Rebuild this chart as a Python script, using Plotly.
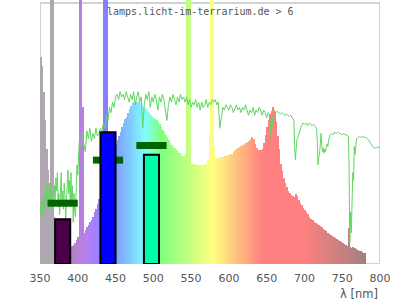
import plotly.graph_objects as go

# ---------------- data ----------------
# lamp spectrum: relative intensity (100 = top of frame), bars 2 nm wide centred on odd wavelengths
spec_wl = list(range(351, 782, 2))
spec_val = [
    79.4, 76, 66, 55, 44, 36, 31, 140, 140, 18,          # 351-369
    14, 12, 10, 9, 8, 7.5, 7, 6.8, 6.6, 6.6,              # 371-389
    6.6, 6.8, 7.3, 8, 9.2, 10.5, 140, 140, 60, 12,        # 391-409
    13, 14, 15, 16, 17, 18, 20, 21, 23, 25,               # 411-429
    27, 29, 140, 140, 140, 36, 38, 40, 43, 45,            # 431-449
    46, 47.5, 49, 50.5, 52.5, 54, 55.5, 56.5, 58, 59.5,   # 451-469
    60.5, 61.5, 62, 62.2, 62.2, 62.2, 61.5, 61, 60, 59.7, # 471-489
    59, 58.4, 57.8, 57, 56.5, 56, 55.5, 55, 54.5, 53.5,   # 491-509
    52.6, 51.5, 50.5, 49.4, 48.5, 47.5, 46.5, 45.7, 45, 44.3,  # 511-529
    43.5, 43, 42.5, 42, 41.3, 41.3, 42, 140, 140, 140,    # 531-549
    38.5, 38.3, 38.3, 38.2, 38, 38, 38, 38, 38, 38.2,     # 551-569
    38.5, 40, 50, 140, 140, 45, 40.5, 40.5, 40.8, 41,     # 571-589
    41, 41, 41.2, 41.4, 41.6, 41.8, 42, 42.3, 43, 43.5,   # 591-609
    44, 44.5, 45, 45.3, 45.7, 46, 46.2, 46.8, 47.3, 48,   # 611-629
    48.5, 48, 46, 44.3, 43.7, 43.7, 43.7, 43.9, 46.5, 49.4,  # 631-649
    52.5, 55, 57.3, 58.6, 60.3, 58.4, 54.5, 49, 44, 38.5,    # 651-669
    35.5, 33, 31, 29.5, 28, 27.3, 26.5, 26, 25.5, 27,     # 671-689
    26, 24.5, 23.5, 22.5, 21.5, 20.7, 19.8, 19, 18.2, 17.4,  # 691-709
    16.7, 16.2, 15.7, 15.2, 14.8, 14.4, 14, 13.5, 13, 12.5,  # 711-729
    12, 11.6, 11.2, 10.8, 10.4, 10, 9.6, 9.2, 8.8, 8.4,   # 731-749
    8, 7.5, 7.2, 6.9, 13.7, 6.5, 6.2, 6.6, 6.2, 5.8,      # 751-769
    5.4, 5, 4.8, 4.5, 4.3, 4.1,                           # 771-781
]

# reference (sunlight) spectrum, green line
sun_wl = (list(range(351, 401)) + list(range(402, 686, 2)) + [
    686, 687, 688, 689, 690, 692, 694, 696, 698, 700, 702, 704, 706, 708, 710, 712, 714, 716,
    717, 718, 719, 720, 721, 722, 723, 724, 725, 726, 727, 728, 729, 730, 731, 732,
    734, 736, 738, 740, 742, 744, 746, 748, 750, 752, 754, 756, 758,
    759, 760, 761, 762, 763, 764, 765, 766, 767, 768, 769,
    771, 773, 775, 777, 779, 781, 783, 785, 787, 789, 791, 793, 795, 797, 799, 800])
sun_val = [
    22, 17, 24, 19, 26, 21, 28, 24, 30, 26,
    22, 29, 25, 31, 23, 27, 20, 26, 30, 24,
    33, 28, 35, 22, 27, 19, 25, 35, 23, 28,
    21, 31, 26, 17, 24, 29, 36, 27, 32, 24,
    35, 22, 30, 16, 27, 20, 18, 30, 38, 34,
    47, 45, 50, 46, 43, 51, 48, 52, 47, 50, 48, 52, 49, 50, 52, 51, 54, 52, 57, 55, 60, 58, 62, 60, 64,
    65, 63, 66, 64, 65, 63, 66, 64, 62, 65, 63, 66, 61, 64, 66, 62, 64, 52, 61, 65, 63, 66, 60, 64, 62,
    65, 63, 59, 64, 62, 65, 63, 58, 55, 61, 64, 62, 65, 63, 61, 64, 62, 65, 63, 64, 62, 64, 61, 63, 60,
    62, 61, 63, 60, 62, 59, 62, 60, 61, 63, 60, 62, 61, 63, 62, 63, 61, 62, 52, 57, 60, 59, 61, 60, 59,
    61, 60, 58, 60, 61, 59, 60, 58, 60, 59, 61, 59, 57, 59, 58, 60, 57, 59, 58, 60, 59, 57, 59, 58, 56,
    58, 57, 48, 56, 59, 58, 58.5, 58, 57.5, 58, 57.5, 57, 57.5, 57, 56.5, 57, 56,
    55, 45, 40, 44, 47.5,
    49, 51.3, 53, 54, 53.5, 54, 53, 54, 53.5, 53, 53.5, 52.5, 52,
    47, 38, 41, 42.5, 46, 50, 45, 43, 44.5, 42.5, 44, 43, 45, 46, 45, 47.5,
    49.5, 50, 49.5, 50.5, 50, 50.5, 50, 50, 49.5, 50, 49.5, 49.5, 49,
    40, 8, 20, 12, 27, 35, 32, 45, 42, 47, 48,
    48.5, 48.8, 48.5, 48.8, 48.5, 48.5, 48, 47.5, 46.5, 45.5, 44.8, 44.5, 44.3, 45, 44.5, 44.8,
]

# LED reference bars and their marker levels
led_center = [380, 440, 497.5]
led_width = [20, 20, 20]
led_value = [17.1, 50.5, 41.9]
led_color = ["#4b0049", "#0000ff", "#00ffaa"]
mark_value = [23.3, 39.8, 45.4]
mark_width = [40, 40, 40]

tick_vals = [350, 400, 450, 500, 550, 600, 650, 700, 750, 800]
title_text = "lamps.licht-im-terrarium.de > 6"
x_title = "λ [nm]"

assert len(spec_wl) == len(spec_val)
assert len(sun_wl) == len(sun_val)


def spectral_color(wl):
    if wl < 380:
        return "rgb(176,168,176)"
    if wl < 440:
        r, g, b = -(wl - 440) / 60, 0.0, 1.0
    elif wl < 490:
        r, g, b = 0.0, (wl - 440) / 50, 1.0
    elif wl < 510:
        r, g, b = 0.0, 1.0, -(wl - 510) / 20
    elif wl < 580:
        r, g, b = (wl - 510) / 70, 1.0, 0.0
    elif wl < 645:
        r, g, b = 1.0, -(wl - 645) / 65, 0.0
    else:
        r, g, b = 1.0, 0.0, 0.0
    if wl < 420:
        f = 0.3 + 0.7 * (wl - 380) / 40
    elif wl > 700:
        f = max(0.3, 0.3 + 0.7 * (780 - wl) / 80)
    else:
        f = 1.0
    r, g, b = [0.5 + 0.5 * c * f for c in (r, g, b)]
    return "rgb(%d,%d,%d)" % (round(r * 255), round(g * 255), round(b * 255))


colors = [spectral_color(w) for w in spec_wl]

fig = go.Figure()
fig.add_trace(go.Bar(x=spec_wl, y=spec_val, width=2,
                     marker=dict(color=colors, line=dict(width=0)),
                     hoverinfo="skip"))
fig.add_trace(go.Scatter(x=sun_wl, y=sun_val, mode="lines",
                         line=dict(color="#5fd75f", width=1), hoverinfo="skip"))

mx, my = [], []
for c, w, v in zip(led_center, mark_width, mark_value):
    mx += [c - w / 2, c + w / 2, None]
    my += [v, v, None]
fig.add_trace(go.Scatter(x=mx, y=my, mode="lines",
                         line=dict(color="#006400", width=7), hoverinfo="skip"))

for c, w, v, col in zip(led_center, led_width, led_value, led_color):
    fig.add_trace(go.Scatter(
        x=[c - w / 2, c + w / 2, c + w / 2, c - w / 2, c - w / 2],
        y=[0, 0, v, v, 0], mode="lines", fill="toself", fillcolor=col,
        line=dict(color="black", width=2), hoverinfo="skip"))

fig.add_shape(type="rect", xref="x", yref="y", x0=tick_vals[0], x1=tick_vals[-1],
              y0=0, y1=100, line=dict(color="#d3d3d3", width=2), layer="below")

fig.add_annotation(text=title_text, xref="paper", yref="paper", x=0.4735, y=0.9867,
                   xanchor="center", yanchor="top", showarrow=False,
                   font=dict(family="DejaVu Sans Mono", size=10, color="#555"))
fig.add_annotation(text=x_title, xref="paper", yref="paper", x=1.0, y=-0.08,
                   xanchor="right", yanchor="top", showarrow=False,
                   font=dict(family="DejaVu Sans", size=11.5, color="#555"))

fig.update_layout(
    width=400, height=300, margin=dict(l=40, r=20, t=0, b=36),
    paper_bgcolor="white", plot_bgcolor="white", showlegend=False,
    barmode="overlay", bargap=0,
    xaxis=dict(range=[350, 800], tickvals=tick_vals, ticks="", showgrid=False,
               zeroline=False, showline=False, ticklabelstandoff=6,
               tickfont=dict(family="DejaVu Sans", size=11, color="#555")),
    yaxis=dict(range=[0, 101.15], visible=False, showgrid=False, zeroline=False),
)

fig.write_html("out.html")
